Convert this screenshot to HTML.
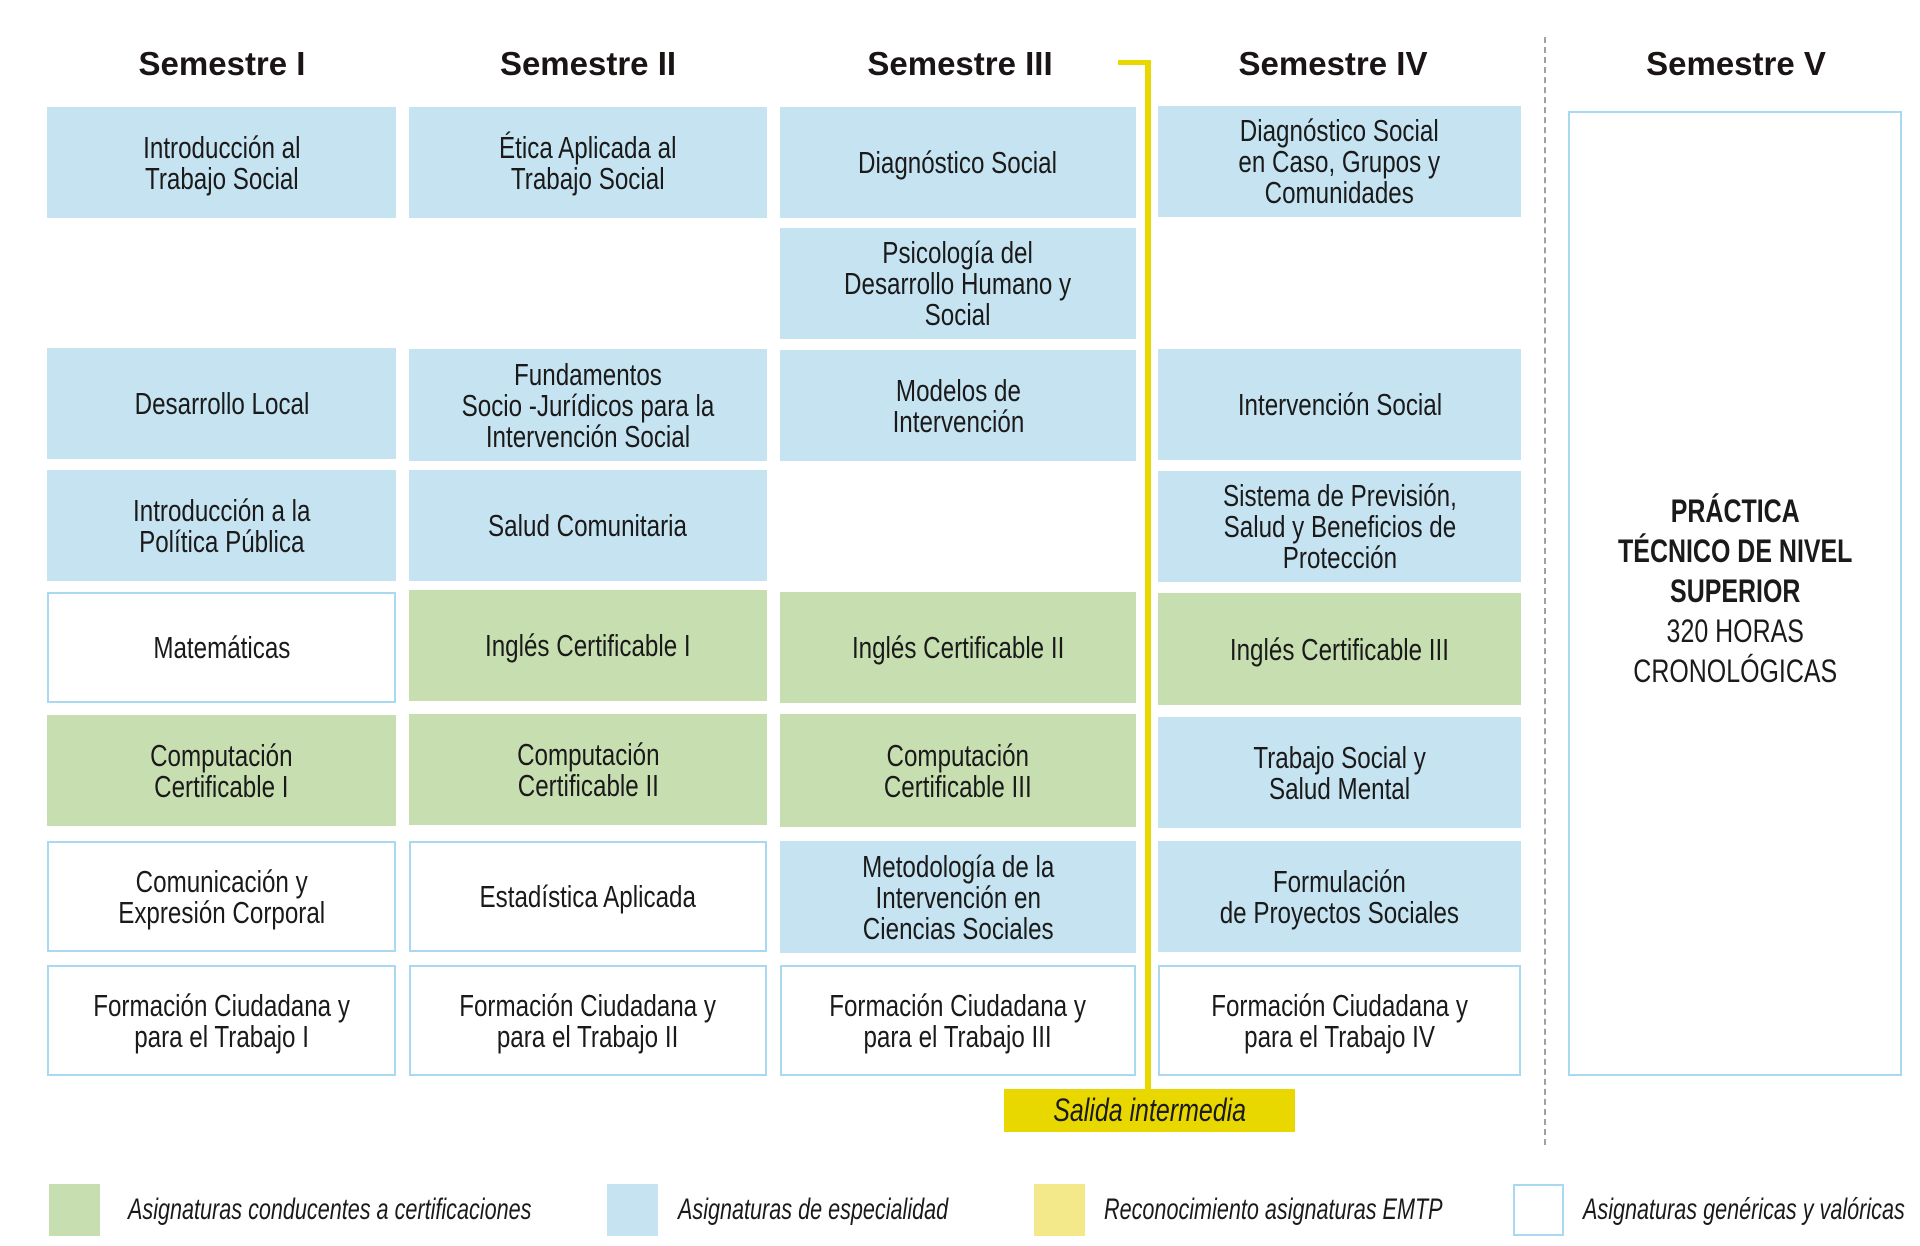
<!DOCTYPE html>
<html><head><meta charset="utf-8">
<style>
body{margin:0;width:1920px;height:1246px;background:#fff;position:relative;overflow:hidden;font-family:"Liberation Sans",sans-serif;color:#1a1a1a}
.b{position:absolute;display:flex;align-items:center;justify-content:center;text-align:center;box-sizing:border-box;font-size:31px;line-height:31px}
.b span{display:inline-block;transform:scaleX(.78);white-space:nowrap}
.bl{background:#c6e3f1}
.gr{background:#c7dfb0}
.wh{background:#fff;border:2px solid #a9d9f0}
.t{position:absolute;top:45px;font-weight:bold;font-size:33px;text-align:center;width:360px;color:#1a1414}
.lg{position:absolute;top:1184px;width:51px;height:52px;box-sizing:border-box}
.lt{position:absolute;top:1190px;font-style:italic;font-size:30px;line-height:40px}
.lt span{display:inline-block;transform:scaleX(.72);transform-origin:left center;white-space:nowrap}
</style></head><body>
<div class="t" style="left:42px">Semestre I</div>
<div class="t" style="left:408px">Semestre II</div>
<div class="t" style="left:780px">Semestre III</div>
<div class="t" style="left:1153px">Semestre IV</div>
<div class="t" style="left:1556px">Semestre V</div>

<!-- col1 -->
<div class="b bl" style="left:47px;top:107px;width:349px;height:111px"><span>Introducción al<br>Trabajo Social</span></div>
<div class="b bl" style="left:47px;top:348px;width:349px;height:111px"><span>Desarrollo Local</span></div>
<div class="b bl" style="left:47px;top:470px;width:349px;height:111px"><span>Introducción a la<br>Política Pública</span></div>
<div class="b wh" style="left:47px;top:592px;width:349px;height:111px"><span>Matemáticas</span></div>
<div class="b gr" style="left:47px;top:715px;width:349px;height:111px"><span>Computación<br>Certificable I</span></div>
<div class="b wh" style="left:47px;top:841px;width:349px;height:111px"><span>Comunicación y<br>Expresión Corporal</span></div>
<div class="b wh" style="left:47px;top:965px;width:349px;height:111px"><span>Formación Ciudadana y<br>para el Trabajo I</span></div>
<!-- col2 -->
<div class="b bl" style="left:409px;top:107px;width:358px;height:111px"><span>Ética Aplicada al<br>Trabajo Social</span></div>
<div class="b bl" style="left:409px;top:349px;width:358px;height:112px"><span>Fundamentos<br>Socio -Jurídicos para la<br>Intervención Social</span></div>
<div class="b bl" style="left:409px;top:470px;width:358px;height:111px"><span>Salud Comunitaria</span></div>
<div class="b gr" style="left:409px;top:590px;width:358px;height:111px"><span>Inglés Certificable I</span></div>
<div class="b gr" style="left:409px;top:714px;width:358px;height:111px"><span>Computación<br>Certificable II</span></div>
<div class="b wh" style="left:409px;top:841px;width:358px;height:111px"><span>Estadística Aplicada</span></div>
<div class="b wh" style="left:409px;top:965px;width:358px;height:111px"><span>Formación Ciudadana y<br>para el Trabajo II</span></div>
<!-- col3 -->
<div class="b bl" style="left:780px;top:107px;width:356px;height:111px"><span>Diagnóstico Social</span></div>
<div class="b bl" style="left:780px;top:228px;width:356px;height:111px"><span>Psicología del<br>Desarrollo Humano y<br>Social</span></div>
<div class="b bl" style="left:780px;top:350px;width:356px;height:111px"><span>Modelos de<br>Intervención</span></div>
<div class="b gr" style="left:780px;top:592px;width:356px;height:111px"><span>Inglés Certificable II</span></div>
<div class="b gr" style="left:780px;top:714px;width:356px;height:113px"><span>Computación<br>Certificable III</span></div>
<div class="b bl" style="left:780px;top:841px;width:356px;height:112px"><span>Metodología de la<br>Intervención en<br>Ciencias Sociales</span></div>
<div class="b wh" style="left:780px;top:965px;width:356px;height:111px"><span>Formación Ciudadana y<br>para el Trabajo III</span></div>
<!-- col4 -->
<div class="b bl" style="left:1158px;top:106px;width:363px;height:111px"><span>Diagnóstico Social<br>en Caso, Grupos y<br>Comunidades</span></div>
<div class="b bl" style="left:1158px;top:349px;width:363px;height:111px"><span>Intervención Social</span></div>
<div class="b bl" style="left:1158px;top:471px;width:363px;height:111px"><span>Sistema de Previsión,<br>Salud y Beneficios de<br>Protección</span></div>
<div class="b gr" style="left:1158px;top:593px;width:363px;height:112px"><span>Inglés Certificable III</span></div>
<div class="b bl" style="left:1158px;top:717px;width:363px;height:111px"><span>Trabajo Social y<br>Salud Mental</span></div>
<div class="b bl" style="left:1158px;top:841px;width:363px;height:111px"><span>Formulación<br>de Proyectos Sociales</span></div>
<div class="b wh" style="left:1158px;top:965px;width:363px;height:111px"><span>Formación Ciudadana y<br>para el Trabajo IV</span></div>
<!-- col5 -->
<div class="b wh" style="left:1568px;top:111px;width:334px;height:965px;line-height:40px;font-size:32px"><span style="margin-top:-6px"><b>PRÁCTICA<br>TÉCNICO DE NIVEL<br>SUPERIOR</b><br>320 HORAS<br>CRONOLÓGICAS</span></div>

<!-- yellow line -->
<div style="position:absolute;left:1118px;top:60px;width:33px;height:5px;background:#e8d800"></div>
<div style="position:absolute;left:1145px;top:60px;width:6px;height:1030px;background:#e8d800"></div>
<div class="b" style="left:1004px;top:1089px;width:291px;height:43px;background:#e8d800;font-style:italic;font-size:32px"><span>Salida intermedia</span></div>
<!-- dashed -->
<div style="position:absolute;left:1544px;top:37px;width:0;height:1108px;border-left:2px dashed #a0a0a0"></div>

<!-- legend -->
<div class="lg" style="left:49px;background:#c7dfb0"></div>
<div class="lt" style="left:128px"><span>Asignaturas conducentes a certificaciones</span></div>
<div class="lg" style="left:607px;background:#c6e3f1"></div>
<div class="lt" style="left:678px"><span>Asignaturas de especialidad</span></div>
<div class="lg" style="left:1034px;background:#f3e98a"></div>
<div class="lt" style="left:1104px"><span>Reconocimiento asignaturas EMTP</span></div>
<div class="lg" style="left:1513px;border:2px solid #a9d9f0"></div>
<div class="lt" style="left:1583px"><span>Asignaturas genéricas y valóricas</span></div>
</body></html>
